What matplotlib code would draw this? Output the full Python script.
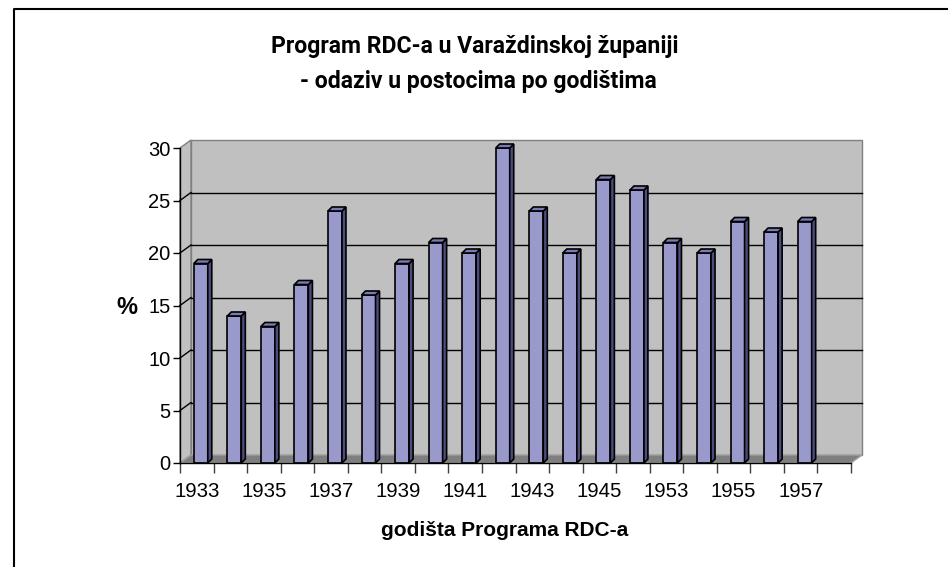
import matplotlib
matplotlib.use('Agg')
import matplotlib.pyplot as plt
from matplotlib.patches import Polygon
from matplotlib.lines import Line2D

# data
years = ['1933', '1934', '1935', '1936', '1937', '1938', '1939', '1940', '1941', '1942',
         '1943', '1944', '1945', '1946', '1953', '1954', '1955', '1956', '1957']
values = [19, 14, 13, 17, 24, 16, 19, 21, 20, 30, 24, 20, 27, 26, 21, 20, 23, 22, 23]
n_slots = 20          # category axis has one empty slot after the last year
yticks = [0, 5, 10, 15, 20, 25, 30]

title = 'Program RDC-a u Varaždinskoj županiji\n- odaziv u postocima po godištima'
xlabel = 'godišta Programa RDC-a'
ylabel = '%'

W, H = 948, 567
fig = plt.figure(figsize=(W / 100, H / 100), dpi=100)
fig.patch.set_facecolor('white')

# front plane of the plot, in pixels
left, right, bottom, top = 180, 851, 463, 148
ax = fig.add_axes([left / W, 1 - bottom / H, (right - left) / W, (bottom - top) / H])
x0, x1 = -0.5, n_slots - 0.5
ymax = yticks[-1]
ax.set_xlim(x0, x1)
ax.set_ylim(0, ymax)
ax.set_facecolor('none')

# pixel -> data units for the fake 3d depth
px_x = n_slots / (right - left)
px_y = ymax / (bottom - top)
wdx, wdy = 11 * px_x, 8 * px_y      # wall depth
bdx, bdy = 4 * px_x, 4 * px_y       # bar depth
boff = 4 * px_x                     # bars sit a bit right of slot centre
bw = 14 * px_x

wall = '#C0C0C0'
edge = '#808080'

# back wall, side wall, floor
ax.add_patch(Polygon([(x0 + wdx, wdy), (x1 + wdx, wdy), (x1 + wdx, ymax + wdy), (x0 + wdx, ymax + wdy)],
                     closed=True, facecolor=wall, edgecolor=edge, lw=1, clip_on=False, zorder=0))
ax.add_patch(Polygon([(x0, 0), (x0 + wdx, wdy), (x0 + wdx, ymax + wdy), (x0, ymax)],
                     closed=True, facecolor=wall, edgecolor=edge, lw=1, clip_on=False, zorder=0))
ax.add_patch(Polygon([(x0, 0), (x1, 0), (x1 + wdx, wdy), (x0 + wdx, wdy)],
                     closed=True, facecolor='#7F7F7F', edgecolor='#A0A0A0', lw=1, clip_on=False, zorder=1))

# gridlines on the back wall + diagonals on the side wall
for t in yticks[1:-1]:
    ax.plot([x0 + wdx, x1 + wdx], [t + wdy, t + wdy], color='black', lw=1, clip_on=False, zorder=0.5)
    ax.plot([x0, x0 + wdx], [t, t + wdy], color='black', lw=1, clip_on=False, zorder=0.5)

# bars: front faces through ax.bar, then side and top faces
xs = [i + boff for i in range(len(values))]
front = '#9999CC'
side = '#4C4C80'
topc = '#7A7AB8'
ax.bar(xs, values, width=bw, color=front, edgecolor='black', linewidth=1.2, zorder=3)
for x, v in zip(xs, values):
    xl, xr = x - bw / 2, x + bw / 2
    ax.add_patch(Polygon([(xr, 0), (xr + bdx, bdy), (xr + bdx, v + bdy), (xr, v)],
                         closed=True, facecolor=side, edgecolor='black', lw=1.2, zorder=3, clip_on=False))
    ax.add_patch(Polygon([(xl, v), (xr, v), (xr + bdx, v + bdy), (xl + bdx, v + bdy)],
                         closed=True, facecolor=topc, edgecolor='black', lw=1.2, zorder=3, clip_on=False))

# axes
for s in ['top', 'right']:
    ax.spines[s].set_visible(False)
for s in ['left', 'bottom']:
    ax.spines[s].set_color('black')
    ax.spines[s].set_linewidth(1)
    ax.spines[s].set_zorder(4)

ax.set_yticks(yticks)
ax.tick_params(axis='y', direction='out', length=5, width=1, pad=2, labelsize=14.5)
ax.set_xticks(range(0, len(years), 2))
ax.set_xticklabels(years[::2])
ax.set_xticks([i - 0.5 for i in range(n_slots + 1)], minor=True)
ax.tick_params(axis='x', which='major', length=0, pad=14, labelsize=14.7)
ax.tick_params(axis='x', which='minor', direction='out', length=7, width=1, color='#404040')
for lab in ax.get_xticklabels() + ax.get_yticklabels():
    lab.set_fontfamily('Liberation Sans')

ax.set_ylabel(ylabel, rotation=0, fontsize=17, fontweight='bold', family='Liberation Sans')
ax.yaxis.set_label_coords((127 - left) / (right - left), (bottom - 307) / (bottom - top))
ax.yaxis.label.set_va('center')
ax.yaxis.label.set_ha('center')

fig.text(505 / W, 1 - 536 / H, xlabel, ha='center', va='baseline',
         fontsize=15, fontweight='bold', family='Liberation Sans')

fig.text(475 / W, 1 - 53 / H, title.split('\n')[0], ha='center', va='baseline',
         fontsize=16.6, fontweight='bold', family='Roboto')
fig.text(478 / W, 1 - 88 / H, title.split('\n')[1], ha='center', va='baseline',
         fontsize=16.6, fontweight='bold', family='Roboto')

# chart frame (only left and top edges fall inside the picture)
fig.add_artist(Line2D([14 / W, 14 / W, 1], [0, 1 - 9 / H, 1 - 9 / H],
                      transform=fig.transFigure, color='black', lw=1.5))

fig.savefig('out.png', dpi=100)
